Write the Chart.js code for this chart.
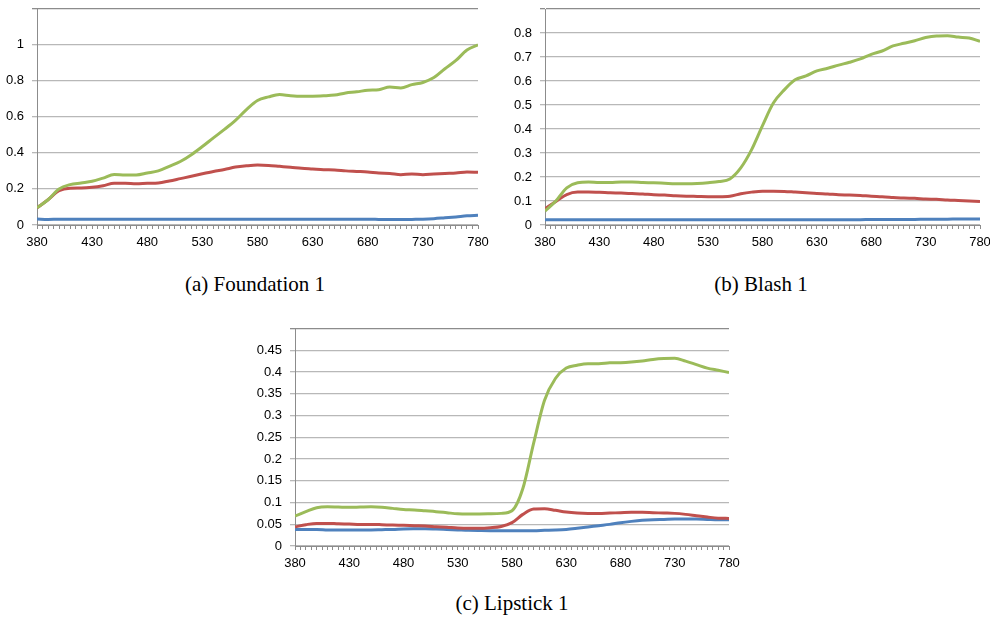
<!DOCTYPE html>
<html>
<head>
<meta charset="utf-8">
<script src="https://cdn.jsdelivr.net/npm/chart.js@4.4.0/dist/chart.umd.min.js"></script>
<style>
  html, body { margin: 0; padding: 0; background: #fff; }
  body { width: 990px; height: 618px; position: relative; overflow: hidden; }
  .box { position: absolute; }
  .cap { position: absolute; font-family: "Liberation Serif", "DejaVu Serif", serif; font-size: 21px; color: #000; white-space: nowrap; transform: translateX(-50%); }
</style>
</head>
<body>
<div class="box" style="left:0px;top:0px;width:503px;height:255px"><canvas id="ca"></canvas></div>
<div class="box" style="left:500px;top:0px;width:505px;height:255px"><canvas id="cb"></canvas></div>
<div class="box" style="left:250px;top:320px;width:504px;height:255px"><canvas id="cc"></canvas></div>
<div class="cap" style="left:255px;top:272px">(a) Foundation 1</div>
<div class="cap" style="left:761px;top:272px">(b) Blash 1</div>
<div class="cap" style="left:512px;top:591px">(c) Lipstick 1</div>
<script>
// Wavelengths (nm), sampled every 10 nm
const wavelengths = [380,390,400,410,420,430,440,450,460,470,480,490,500,510,520,530,540,550,560,570,580,590,600,610,620,630,640,650,660,670,680,690,700,710,720,730,740,750,760,770,780];

// (a) Foundation 1
const foundationBlue  = [0.033,0.031,0.032,0.032,0.032,0.032,0.032,0.032,0.032,0.032,0.032,0.032,0.032,0.032,0.032,0.032,0.032,0.032,0.032,0.032,0.032,0.032,0.032,0.032,0.032,0.032,0.032,0.032,0.032,0.032,0.032,0.031,0.030,0.030,0.031,0.032,0.035,0.040,0.045,0.051,0.054];
const foundationRed   = [0.095,0.14,0.19,0.204,0.205,0.209,0.218,0.231,0.231,0.228,0.231,0.233,0.244,0.257,0.27,0.284,0.297,0.308,0.321,0.328,0.332,0.33,0.325,0.32,0.314,0.31,0.306,0.305,0.30,0.297,0.294,0.288,0.286,0.279,0.283,0.279,0.283,0.286,0.288,0.294,0.292];
const foundationGreen = [0.095,0.14,0.20,0.224,0.233,0.242,0.26,0.28,0.277,0.277,0.288,0.30,0.325,0.352,0.39,0.435,0.483,0.53,0.58,0.64,0.69,0.71,0.723,0.717,0.714,0.714,0.716,0.72,0.732,0.738,0.747,0.75,0.765,0.76,0.778,0.79,0.817,0.866,0.912,0.97,0.998];

// (b) Blash 1
const blashBlue  = [0.022,0.022,0.022,0.022,0.022,0.022,0.022,0.022,0.022,0.022,0.022,0.022,0.022,0.022,0.022,0.022,0.022,0.022,0.022,0.022,0.022,0.022,0.022,0.022,0.022,0.022,0.022,0.022,0.022,0.022,0.023,0.023,0.023,0.023,0.023,0.024,0.024,0.024,0.025,0.025,0.025];
const blashRed   = [0.068,0.098,0.127,0.137,0.137,0.136,0.134,0.133,0.131,0.129,0.126,0.125,0.122,0.12,0.119,0.118,0.118,0.12,0.13,0.137,0.141,0.141,0.14,0.137,0.134,0.131,0.129,0.126,0.125,0.123,0.12,0.118,0.115,0.112,0.111,0.108,0.107,0.104,0.102,0.10,0.098];
const blashGreen = [0.058,0.10,0.155,0.176,0.179,0.177,0.177,0.179,0.179,0.177,0.176,0.174,0.172,0.172,0.173,0.176,0.181,0.192,0.238,0.314,0.414,0.508,0.563,0.605,0.621,0.642,0.653,0.666,0.678,0.692,0.711,0.725,0.746,0.757,0.768,0.781,0.788,0.789,0.783,0.779,0.765];

// (c) Lipstick 1
const lipstickBlue  = [0.038,0.038,0.038,0.037,0.0367,0.0367,0.0367,0.037,0.0375,0.038,0.039,0.0395,0.0398,0.039,0.038,0.037,0.036,0.0355,0.0352,0.0352,0.0352,0.0352,0.0352,0.036,0.0367,0.038,0.0406,0.0436,0.0467,0.0497,0.0536,0.0566,0.059,0.0605,0.0612,0.062,0.062,0.062,0.0612,0.0605,0.0605];
const lipstickRed   = [0.044,0.049,0.052,0.052,0.051,0.0505,0.0497,0.0497,0.049,0.048,0.0475,0.0467,0.046,0.0444,0.043,0.0413,0.0406,0.0406,0.042,0.045,0.0536,0.0727,0.085,0.0857,0.082,0.078,0.0758,0.075,0.075,0.0758,0.0765,0.0773,0.0773,0.0765,0.0758,0.075,0.0727,0.0696,0.0666,0.064,0.0635];
const lipstickGreen = [0.069,0.079,0.088,0.090,0.0895,0.089,0.0895,0.090,0.089,0.0865,0.084,0.083,0.081,0.079,0.0765,0.074,0.0735,0.0735,0.074,0.075,0.081,0.132,0.237,0.335,0.385,0.409,0.4155,0.419,0.419,0.421,0.4215,0.423,0.4255,0.429,0.431,0.4315,0.425,0.417,0.409,0.404,0.399];

// Axis settings per panel
const yMaxA = 1.2, yStepA = 0.2;
const yMaxB = 0.9, yStepB = 0.1;
const yMaxC = 0.5, yStepC = 0.05;
const xMin = 380, xMax = 780, xLabelStep = 50, xTickStep = 5;

const BLUE = '#4F81BD', RED = '#C0504D', GREEN = '#9BBB59';

function pts(vals) { return wavelengths.map((w, i) => ({ x: w, y: vals[i] })); }

function makeChart(id, blue, red, green, yMax, yStep, pad, yAxisW, xAxisH) {
  const ds = (vals, color) => ({
    data: pts(vals), borderColor: color, backgroundColor: color,
    borderWidth: 3, pointRadius: 0, cubicInterpolationMode: 'monotone', fill: false
  });
  const isTop = c => c && c.tick && Math.abs(c.tick.value - yMax) < 1e-9;
  new Chart(document.getElementById(id), {
    type: 'line',
    data: { datasets: [ds(green, GREEN), ds(red, RED), ds(blue, BLUE)] },
    options: {
      responsive: true, maintainAspectRatio: false, animation: false,
      layout: { padding: pad },
      plugins: { legend: { display: false }, tooltip: { enabled: false } },
      scales: {
        x: {
          type: 'linear', min: xMin, max: xMax,
          afterFit: s => { s.height = xAxisH; },
          ticks: {
            stepSize: xTickStep, autoSkip: false, maxRotation: 0, padding: 6,
            color: '#000', font: { family: 'Liberation Sans', size: 13 },
            callback: v => ((Math.round(v) - xMin) % xLabelStep === 0 ? String(Math.round(v)) : '')
          },
          grid: { drawOnChartArea: false, drawTicks: true, tickLength: 4, color: '#8c8c8c', lineWidth: 1 },
          border: { color: '#8c8c8c', width: 1 }
        },
        y: {
          min: 0, max: yMax,
          afterFit: s => { s.width = yAxisW; },
          ticks: {
            stepSize: yStep, padding: 8,
            color: '#000',
            font: c => (isTop(c) ? { family: 'Liberation Sans', size: 1, lineHeight: 1 } : { family: 'Liberation Sans', size: 13 }),
            callback: v => (Math.abs(v - yMax) < 1e-9 ? '' : String(Math.round(v * 100) / 100))
          },
          grid: {
            tickLength: 5, lineWidth: 1.3,
            color: c => (isTop(c) ? '#8c8c8c' : '#b8b8b8')
          },
          border: { color: '#8c8c8c', width: 1 }
        }
      }
    }
  });
}

makeChart('ca', foundationBlue, foundationRed, foundationGreen, yMaxA, yStepA, { top: 7, right: 25, left: 0, bottom: 0 }, 37, 30);
makeChart('cb', blashBlue, blashRed, blashGreen, yMaxB, yStepB, { top: 9, right: 25, left: 0, bottom: 0 }, 45, 30);
makeChart('cc', lipstickBlue, lipstickRed, lipstickGreen, yMaxC, yStepC, { top: 8, right: 25, left: 0, bottom: 0 }, 45, 29);
</script>
</body>
</html>
